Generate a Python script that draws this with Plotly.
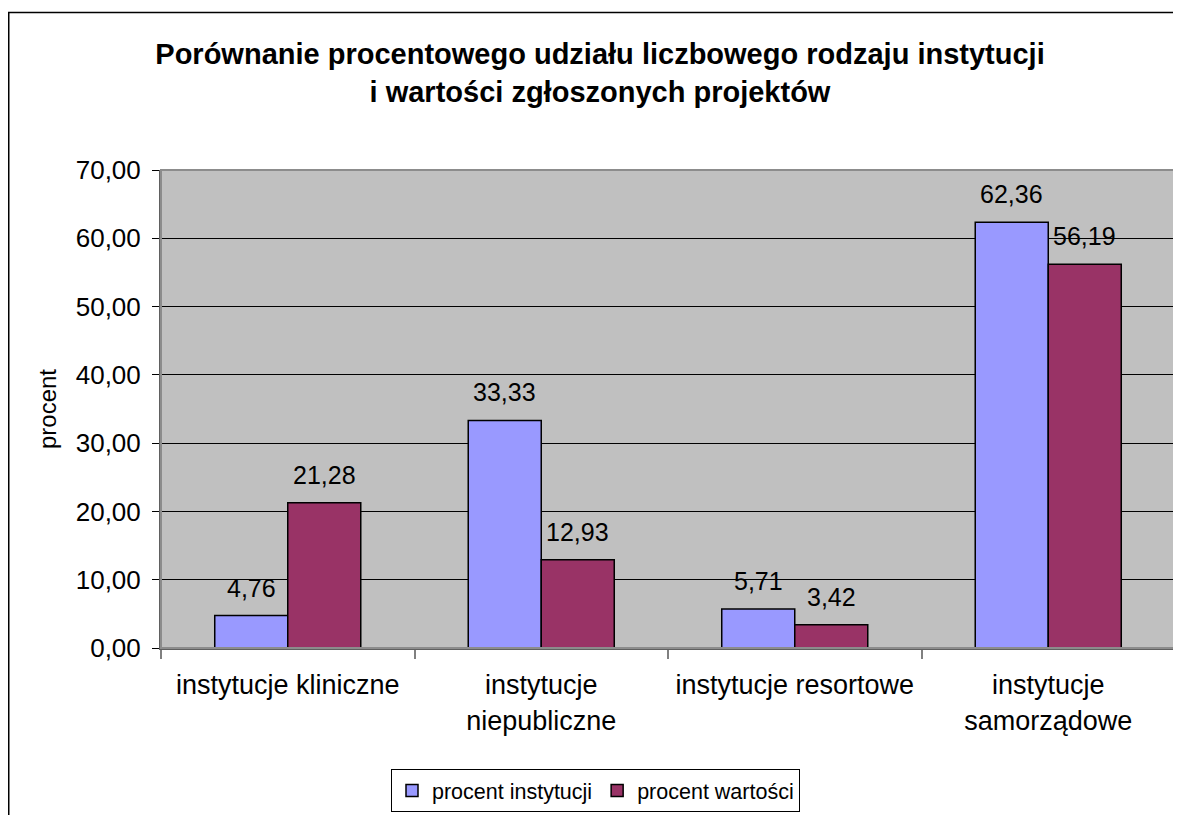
import plotly.graph_objects as go

categories = ["instytucje kliniczne", "instytucje<br>niepubliczne", "instytucje resortowe", "instytucje<br>samorządowe"]
procent_instytucji = [4.76, 33.33, 5.71, 62.36]
procent_wartosci = [21.28, 12.93, 3.42, 56.19]
series_names = ["procent instytucji", "procent wartości"]
series_colors = ["#9999FF", "#993366"]
y_ticks = [0, 10, 20, 30, 40, 50, 60, 70]

FONT = "Liberation Sans, Arial, sans-serif"
BARGAP = 0.424

fig = go.Figure()
for name, vals, col in zip(series_names, [procent_instytucji, procent_wartosci], series_colors):
    fig.add_trace(go.Bar(
        x=categories, y=vals, name=name,
        marker=dict(color=col, line=dict(color="black", width=1.5)),
    ))

# data labels above bars
annotations = []
for s, vals in enumerate([procent_instytucji, procent_wartosci]):
    offset = (s - 0.5) * (1 - BARGAP) / 2
    for i, v in enumerate(vals):
        annotations.append(dict(
            x=i + offset, y=v, xref="x", yref="y",
            text=f"{v:.2f}".replace(".", ","),
            showarrow=False, yanchor="bottom", yshift=12,
            font=dict(family=FONT, size=25, color="black"),
        ))

# the page adds an 8px body margin, so the figure is sized to fill the rest of the window
W, H = 1173, 807
L, R, T, B = 153, 6, 162, 167
pw, ph = W - L - R, H - T - B

def px_x(x):
    return (x - L) / pw

def px_y(y):
    return (H - B - y) / ph

fx0, fx1 = px_x(0.75), px_x(1200)
fy0, fy1 = px_y(830), px_y(4.5)
shapes = [
    # outer chart border (left and top edges visible in the frame)
    dict(type="path", xref="paper", yref="paper",
         path=f"M {fx0},{fy0} L {fx0},{fy1} L {fx1},{fy1}",
         line=dict(color="black", width=1.5)),
    # plot area border
    dict(type="rect", xref="paper", yref="paper", x0=0, x1=1, y0=0, y1=1,
         line=dict(color="#8c8c8c", width=2)),
]

fig.update_layout(
    width=W, height=H,
    margin=dict(l=L, r=R, t=T, b=B, pad=0),
    paper_bgcolor="white", plot_bgcolor="#C0C0C0",
    separators=", ",
    font=dict(family=FONT, color="black"),
    barmode="group", bargap=BARGAP, bargroupgap=0,
    title=dict(
        text="<b>Porównanie procentowego udziału liczbowego rodzaju instytucji<br>i wartości zgłoszonych projektów</b>",
        font=dict(family=FONT, size=29, color="black"),
        x=592 / W, xref="container", xanchor="center",
        y=1 - 56 / H, yref="container", yanchor="middle",
    ),
    xaxis=dict(
        type="category", tickson="boundaries", ticks="outside", ticklen=9,
        tickcolor="#808080", tickwidth=2, showline=True, linecolor="#606060", linewidth=2,
        tickfont=dict(family=FONT, size=27, color="black"), showgrid=False,
        ticklabelstandoff=12,
    ),
    yaxis=dict(
        range=[0, 70], tickvals=y_ticks, tickformat=".2f",
        showgrid=True, gridcolor="black", gridwidth=1,
        ticks="outside", ticklen=7, tickcolor="black", tickwidth=1,
        showline=True, linecolor="#606060", linewidth=2,
        tickfont=dict(family=FONT, size=26, color="black"),
        ticklabelstandoff=6, zeroline=False,
        title=dict(text="procent", font=dict(family=FONT, size=24, color="black"), standoff=12),
    ),
    legend=dict(
        orientation="h", x=587.5 / W, xanchor="center", xref="container",
        y=3 / H, yanchor="bottom", yref="container",
        bordercolor="black", borderwidth=1, bgcolor="white",
        font=dict(family=FONT, size=21.5, color="black"),
        itemwidth=30, tracegroupgap=0,
    ),
    annotations=annotations,
    shapes=shapes,
)

fig.write_html("out.html")
